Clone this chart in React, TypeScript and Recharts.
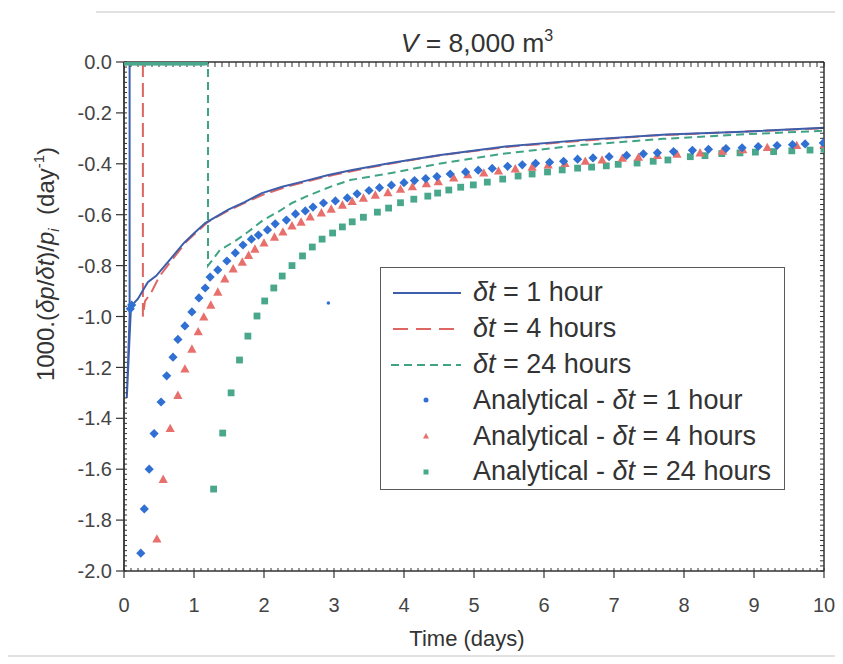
import React from 'react';
import { ComposedChart, Line, Scatter, XAxis, YAxis, Legend } from 'recharts';

const W = 835;
const H = 650;

// Numerical solutions: [time (days), 1000·(δp/δt)/p_i (day⁻¹)]
const numerical1h: [number, number][] = [
  [0, 0], [0.08, 0], [0.08, -1.0], [0.04, -1.32], [0.1, -0.96], [0.2, -0.93], [0.34, -0.865],
  [0.46, -0.84], [0.63, -0.785], [0.86, -0.71], [1.02, -0.668], [1.16, -0.633], [1.49, -0.58],
  [1.73, -0.55], [1.97, -0.515], [2.26, -0.49], [2.55, -0.47], [2.92, -0.444], [3.26, -0.424],
  [3.81, -0.397], [4.52, -0.365], [5.45, -0.332], [6.56, -0.306], [7.75, -0.285], [8.84, -0.274],
  [10, -0.258],
];
const numerical4h: [number, number][] = [
  [0, 0], [0.27, 0], [0.27, -1.0], [0.3, -0.94], [0.4, -0.9], [0.5, -0.845], [0.65, -0.79],
  [0.9, -0.703], [1.2, -0.628], [1.5, -0.582], [1.75, -0.55], [2.0, -0.52], [2.3, -0.492],
  [2.6, -0.47], [3.0, -0.443], [3.5, -0.415], [4.0, -0.39], [4.5, -0.367], [5.5, -0.333],
  [6.5, -0.31], [7.5, -0.29], [8.5, -0.278], [9.5, -0.266], [10, -0.261],
];
const numerical24h: [number, number][] = [
  [0, 0], [1.2, 0], [1.2, -0.8], [1.37, -0.739], [1.59, -0.703], [1.77, -0.668], [1.99, -0.621],
  [2.2, -0.589], [2.4, -0.554], [2.59, -0.53], [2.83, -0.503], [3.02, -0.483], [3.23, -0.464],
  [3.8, -0.437], [4.5, -0.4], [5.4, -0.361], [6.5, -0.327], [7.7, -0.302], [8.8, -0.285],
  [10, -0.27],
];

// Analytical solutions
const analytical1h: [number, number][] = [
  [0.09, -0.97], [0.11, -0.955],
  [0.24, -1.93], [0.29, -1.756], [0.36, -1.6], [0.43, -1.46], [0.53, -1.336], [0.61, -1.233],
  [0.7, -1.16], [0.77, -1.09], [0.87, -1.037], [0.97, -0.982], [1.07, -0.927], [1.16, -0.888],
  [1.23, -0.845], [1.34, -0.817], [1.47, -0.782], [1.59, -0.75], [1.7, -0.719], [1.82, -0.696],
  [1.92, -0.68], [2.05, -0.66], [2.16, -0.636], [2.32, -0.621], [2.45, -0.597], [2.59, -0.585],
  [2.7, -0.57], [2.85, -0.554], [3.02, -0.546], [3.19, -0.534], [3.33, -0.518], [3.5, -0.505],
  [3.65, -0.494], [3.82, -0.484], [4.0, -0.474], [4.15, -0.466], [4.31, -0.458], [4.47, -0.45],
  [4.66, -0.44], [4.88, -0.432], [5.06, -0.425], [5.26, -0.418], [5.48, -0.41], [5.69, -0.404],
  [5.88, -0.398], [6.08, -0.394], [6.28, -0.39], [6.48, -0.382], [6.7, -0.377], [6.93, -0.372],
  [7.18, -0.367], [7.42, -0.361], [7.62, -0.357], [7.85, -0.352], [8.12, -0.347], [8.35, -0.343],
  [8.6, -0.34], [8.83, -0.337], [9.06, -0.332], [9.33, -0.328], [9.55, -0.325], [9.73, -0.322],
  [9.99, -0.318],
];
const analytical4h: [number, number][] = [
  [0.47, -1.874], [0.56, -1.64], [0.66, -1.44], [0.77, -1.31], [0.87, -1.206], [0.97, -1.128],
  [1.06, -1.06], [1.14, -1.002], [1.24, -0.955], [1.34, -0.904], [1.44, -0.852], [1.56, -0.813],
  [1.69, -0.786], [1.78, -0.76], [1.87, -0.735], [2.0, -0.711], [2.15, -0.688], [2.27, -0.668],
  [2.4, -0.644], [2.53, -0.629], [2.66, -0.609], [2.82, -0.593], [2.96, -0.578], [3.12, -0.562],
  [3.26, -0.548], [3.42, -0.535], [3.59, -0.523], [3.77, -0.513], [3.95, -0.5], [4.12, -0.49],
  [4.32, -0.478], [4.49, -0.47], [4.71, -0.455], [4.91, -0.443], [5.14, -0.436], [5.35, -0.428],
  [5.59, -0.42], [5.83, -0.413], [6.06, -0.404], [6.3, -0.398], [6.59, -0.39], [6.83, -0.385],
  [7.12, -0.378], [7.35, -0.374], [7.62, -0.367], [7.9, -0.362], [8.23, -0.357], [8.55, -0.35],
  [8.84, -0.344], [9.19, -0.336], [9.61, -0.328], [10.0, -0.325],
];
const analytical24h: [number, number][] = [
  [0, 0], [0.05, 0], [0.1, 0], [0.15, 0], [0.2, 0], [0.25, 0], [0.3, 0], [0.35, 0], [0.4, 0],
  [0.45, 0], [0.5, 0], [0.55, 0], [0.6, 0], [0.65, 0], [0.7, 0], [0.75, 0], [0.8, 0], [0.85, 0],
  [0.9, 0], [0.95, 0], [1.0, 0], [1.05, 0], [1.1, 0], [1.15, 0],
  [1.28, -1.678], [1.41, -1.458], [1.53, -1.3], [1.65, -1.171], [1.77, -1.077], [1.9, -0.998],
  [2.01, -0.939], [2.14, -0.888], [2.26, -0.841], [2.4, -0.8], [2.55, -0.762], [2.69, -0.727],
  [2.83, -0.696], [2.98, -0.672], [3.12, -0.648], [3.26, -0.628], [3.42, -0.61], [3.62, -0.59],
  [3.78, -0.574], [3.95, -0.553], [4.14, -0.539], [4.34, -0.527], [4.48, -0.515], [4.64, -0.503],
  [4.81, -0.492], [4.99, -0.483], [5.19, -0.472], [5.41, -0.46], [5.63, -0.448], [5.83, -0.44],
  [6.05, -0.432], [6.26, -0.424], [6.48, -0.417], [6.68, -0.413], [6.89, -0.408], [7.06, -0.402],
  [7.33, -0.397], [7.56, -0.39], [7.77, -0.385], [8.09, -0.372], [8.3, -0.368], [8.54, -0.36],
  [8.8, -0.357], [9.02, -0.354], [9.28, -0.352], [9.54, -0.349], [9.8, -0.346], [10.0, -0.343],
];
const strayPoint: [number, number][] = [[2.92, -0.947]];

// Corners of the plotting frame, used to anchor the frame/minor-tick axes
const frameCorners: [number, number][] = [[0, -2], [10, 0]];

// Axis ticks
const xTicks = [0, 1, 2, 3, 4, 5, 6, 7, 8, 9, 10];
const yTicks = [-2.0, -1.8, -1.6, -1.4, -1.2, -1.0, -0.8, -0.6, -0.4, -0.2, 0.0];
const xMinorTicks = Array.from({ length: 101 }, (_, i) => i / 10);
const yMinorTicks = Array.from({ length: 101 }, (_, i) => -i / 50);

// Legend entries
const legendPrefix = ['', '', '', 'Analytical - ', 'Analytical - ', 'Analytical - '];
const legendSuffix = [' = 1 hour', ' = 4 hours', ' = 24 hours', ' = 1 hour', ' = 4 hours', ' = 24 hours'];

const BLUE_LINE = '#3d5eab';
const RED_LINE = '#de6763';
const GREEN_LINE = '#3fa386';
const BLUE_MARK = '#3070d2';
const RED_MARK = '#e8706c';
const GREEN_MARK = '#49a78c';
const INK = '#333';
const FONT = '"Liberation Sans", Arial, sans-serif';

const toRows = (pts: [number, number][]) => pts.map(([t, v]) => ({ t, v }));

// minor ticks carry no label
const NoLabel = () => <g />;

const DiamondShape = (p: any) => {
  const { cx, cy } = p;
  const r = 4.6;
  return <polygon points={`${cx},${cy - r} ${cx + r},${cy} ${cx},${cy + r} ${cx - r},${cy}`} fill={BLUE_MARK} />;
};
const TriangleShape = (p: any) => {
  const { cx, cy } = p;
  return <polygon points={`${cx},${cy - 4.8} ${cx + 4.6},${cy + 3.6} ${cx - 4.6},${cy + 3.6}`} fill={RED_MARK} />;
};
const SquareShape = (p: any) => {
  const { cx, cy } = p;
  return <rect x={cx - 3.4} y={cy - 3.4} width={6.8} height={6.8} fill={GREEN_MARK} />;
};
const DotShape = (p: any) => <circle cx={p.cx} cy={p.cy} r={1.8} fill={BLUE_MARK} />;

const LegendIcon = ({ i }: { i: number }) => {
  const w = 88;
  const h = 36;
  const y = h / 2;
  let el: React.ReactNode = null;
  if (i === 0) el = <line x1={12} x2={80} y1={y} y2={y} stroke={BLUE_LINE} strokeWidth={2} />;
  if (i === 1) el = <line x1={12} x2={80} y1={y} y2={y} stroke={RED_LINE} strokeWidth={2} strokeDasharray="15 8" />;
  if (i === 2) el = <line x1={10} x2={80} y1={y} y2={y} stroke={GREEN_LINE} strokeWidth={2} strokeDasharray="8 5" />;
  if (i === 3) el = <circle cx={45} cy={y} r={2.5} fill={BLUE_MARK} />;
  if (i === 4) el = <polygon points={`45,${y - 3} 48,${y + 2.5} 42,${y + 2.5}`} fill={RED_MARK} />;
  if (i === 5) el = <rect x={42.5} y={y - 2.5} width={5} height={5} fill={GREEN_MARK} />;
  return (
    <svg width={w} height={h} style={{ display: 'block', flex: 'none' }}>
      {el}
    </svg>
  );
};

const LegendBox = () => (
  <div
    style={{
      boxSizing: 'border-box',
      width: 405,
      height: 223,
      border: '1.5px solid #5a5a5a',
      background: '#fff',
      paddingTop: 7,
      fontFamily: FONT,
      fontSize: 27,
      color: INK,
    }}
  >
    {legendSuffix.map((suffix, i) => (
      <div key={i} style={{ display: 'flex', alignItems: 'center', height: 35.8, whiteSpace: 'nowrap' }}>
        <LegendIcon i={i} />
        <span style={{ marginLeft: 4 }}>
          {legendPrefix[i]}
          <span style={{ fontStyle: 'italic' }}>δt</span>
          {suffix}
        </span>
      </div>
    ))}
  </div>
);

export default function App() {
  return (
    <div style={{ position: 'relative', width: W, height: H, background: '#fff' }}>
      <ComposedChart width={W} height={H} margin={{ top: 54, right: 19, bottom: 37, left: 0 }}>
        {/* mirrored axes: plot frame plus minor ticks pointing into the plot */}
        <XAxis xAxisId="xm" orientation="bottom" mirror type="number" dataKey="t" domain={[0, 10]} allowDataOverflow
          ticks={xMinorTicks} interval={0} height={1} tick={NoLabel} tickSize={3} axisLine={false}
          tickLine={{ stroke: INK, strokeWidth: 1 }} />
        <YAxis yAxisId="ym" orientation="left" mirror type="number" dataKey="v" domain={[-2, 0]} allowDataOverflow
          ticks={yMinorTicks} interval={0} width={1} tick={NoLabel} tickSize={3} axisLine={false}
          tickLine={{ stroke: INK, strokeWidth: 1 }} />
        <XAxis xAxisId="xt" orientation="top" mirror type="number" dataKey="t" domain={[0, 10]} allowDataOverflow
          ticks={xMinorTicks} interval={0} height={1} tick={NoLabel} tickSize={5}
          axisLine={{ stroke: INK, strokeWidth: 1.5 }} tickLine={{ stroke: INK, strokeWidth: 1 }} />
        <YAxis yAxisId="yr" orientation="right" mirror type="number" dataKey="v" domain={[-2, 0]} allowDataOverflow
          ticks={yMinorTicks} interval={0} width={1} tick={NoLabel} tickSize={4}
          axisLine={{ stroke: INK, strokeWidth: 1.5 }} tickLine={{ stroke: INK, strokeWidth: 1 }} />

        <XAxis xAxisId="x" type="number" dataKey="t" domain={[0, 10]} allowDataOverflow ticks={xTicks}
          height={50} tickSize={7} tickMargin={20} axisLine={{ stroke: INK, strokeWidth: 1.5 }}
          tickLine={{ stroke: INK, strokeWidth: 1.2 }}
          tick={{ fill: '#444', fontSize: 20, fontFamily: FONT }} />
        <YAxis yAxisId="y" type="number" dataKey="v" domain={[-2, 0]} allowDataOverflow ticks={yTicks}
          width={116} tickSize={8} tickMargin={4} axisLine={{ stroke: INK, strokeWidth: 1.8 }}
          tickLine={{ stroke: INK, strokeWidth: 1.2 }}
          tickFormatter={(v: number) => v.toFixed(1)}
          tick={{ fill: '#444', fontSize: 20, fontFamily: FONT }} />

        {/* invisible anchors so the frame axes get a scale */}
        <Line xAxisId="xm" yAxisId="ym" data={toRows(frameCorners)} dataKey="v" stroke="none" dot={false}
          isAnimationActive={false} legendType="none" />
        <Line xAxisId="xt" yAxisId="yr" data={toRows(frameCorners)} dataKey="v" stroke="none" dot={false}
          isAnimationActive={false} legendType="none" />

        <Line xAxisId="x" yAxisId="y" data={toRows(numerical24h)} dataKey="v" type="linear" dot={false}
          stroke={GREEN_LINE} strokeWidth={2} strokeDasharray="8 5" isAnimationActive={false} legendType="none" />
        <Scatter xAxisId="x" yAxisId="y" data={toRows(analytical24h)} shape={SquareShape} isAnimationActive={false} legendType="none" />
        <Scatter xAxisId="x" yAxisId="y" data={toRows(analytical4h)} shape={TriangleShape} isAnimationActive={false} legendType="none" />
        <Scatter xAxisId="x" yAxisId="y" data={toRows(analytical1h)} shape={DiamondShape} isAnimationActive={false} legendType="none" />
        <Scatter xAxisId="x" yAxisId="y" data={toRows(strayPoint)} shape={DotShape} isAnimationActive={false} legendType="none" />
        <Line xAxisId="x" yAxisId="y" data={toRows(numerical4h)} dataKey="v" type="linear" dot={false}
          stroke={RED_LINE} strokeWidth={2} strokeDasharray="14 6" isAnimationActive={false} legendType="none" />
        <Line xAxisId="x" yAxisId="y" data={toRows(numerical1h)} dataKey="v" type="linear" dot={false}
          stroke={BLUE_LINE} strokeWidth={2} isAnimationActive={false} legendType="none" />

        <Legend content={() => <LegendBox />} layout="vertical" align="center" verticalAlign="middle"
          wrapperStyle={{ left: 372, top: 259, width: 405, height: 223 }} />
      </ComposedChart>

      <svg width={W} height={H} style={{ position: 'absolute', left: 0, top: 0, pointerEvents: 'none', overflow: 'visible' }}
        fontFamily={FONT}>
        <line x1={88} x2={835} y1={4} y2={4} stroke="#c4c4c4" strokeWidth={1} />
        <line x1={-8} x2={835} y1={648} y2={648} stroke="#c4c4c4" strokeWidth={1} />
        <text x={469} y={44} textAnchor="middle" fontSize={26.5} fill={INK}>
          <tspan fontStyle="italic">V</tspan> = 8,000 m
          <tspan fontSize={16} dy={-11}>3</tspan>
        </text>
        <text x={459} y={638} textAnchor="middle" fontSize={22} fill={INK}>Time (days)</text>
        <text transform="translate(46,256) rotate(-90)" textAnchor="middle" fontSize={24} fill={INK}>
          1000.(<tspan fontStyle="italic">δp</tspan>/<tspan fontStyle="italic">δt</tspan>)/<tspan fontStyle="italic">p</tspan>
          <tspan fontSize={15} dy={5} fontStyle="italic">i</tspan>
          <tspan dy={-5}>{'\u00a0\u00a0(day'}</tspan>
          <tspan fontSize={15} dy={-10}>-1</tspan>
          <tspan dy={10}>)</tspan>
        </text>
      </svg>
    </div>
  );
}
